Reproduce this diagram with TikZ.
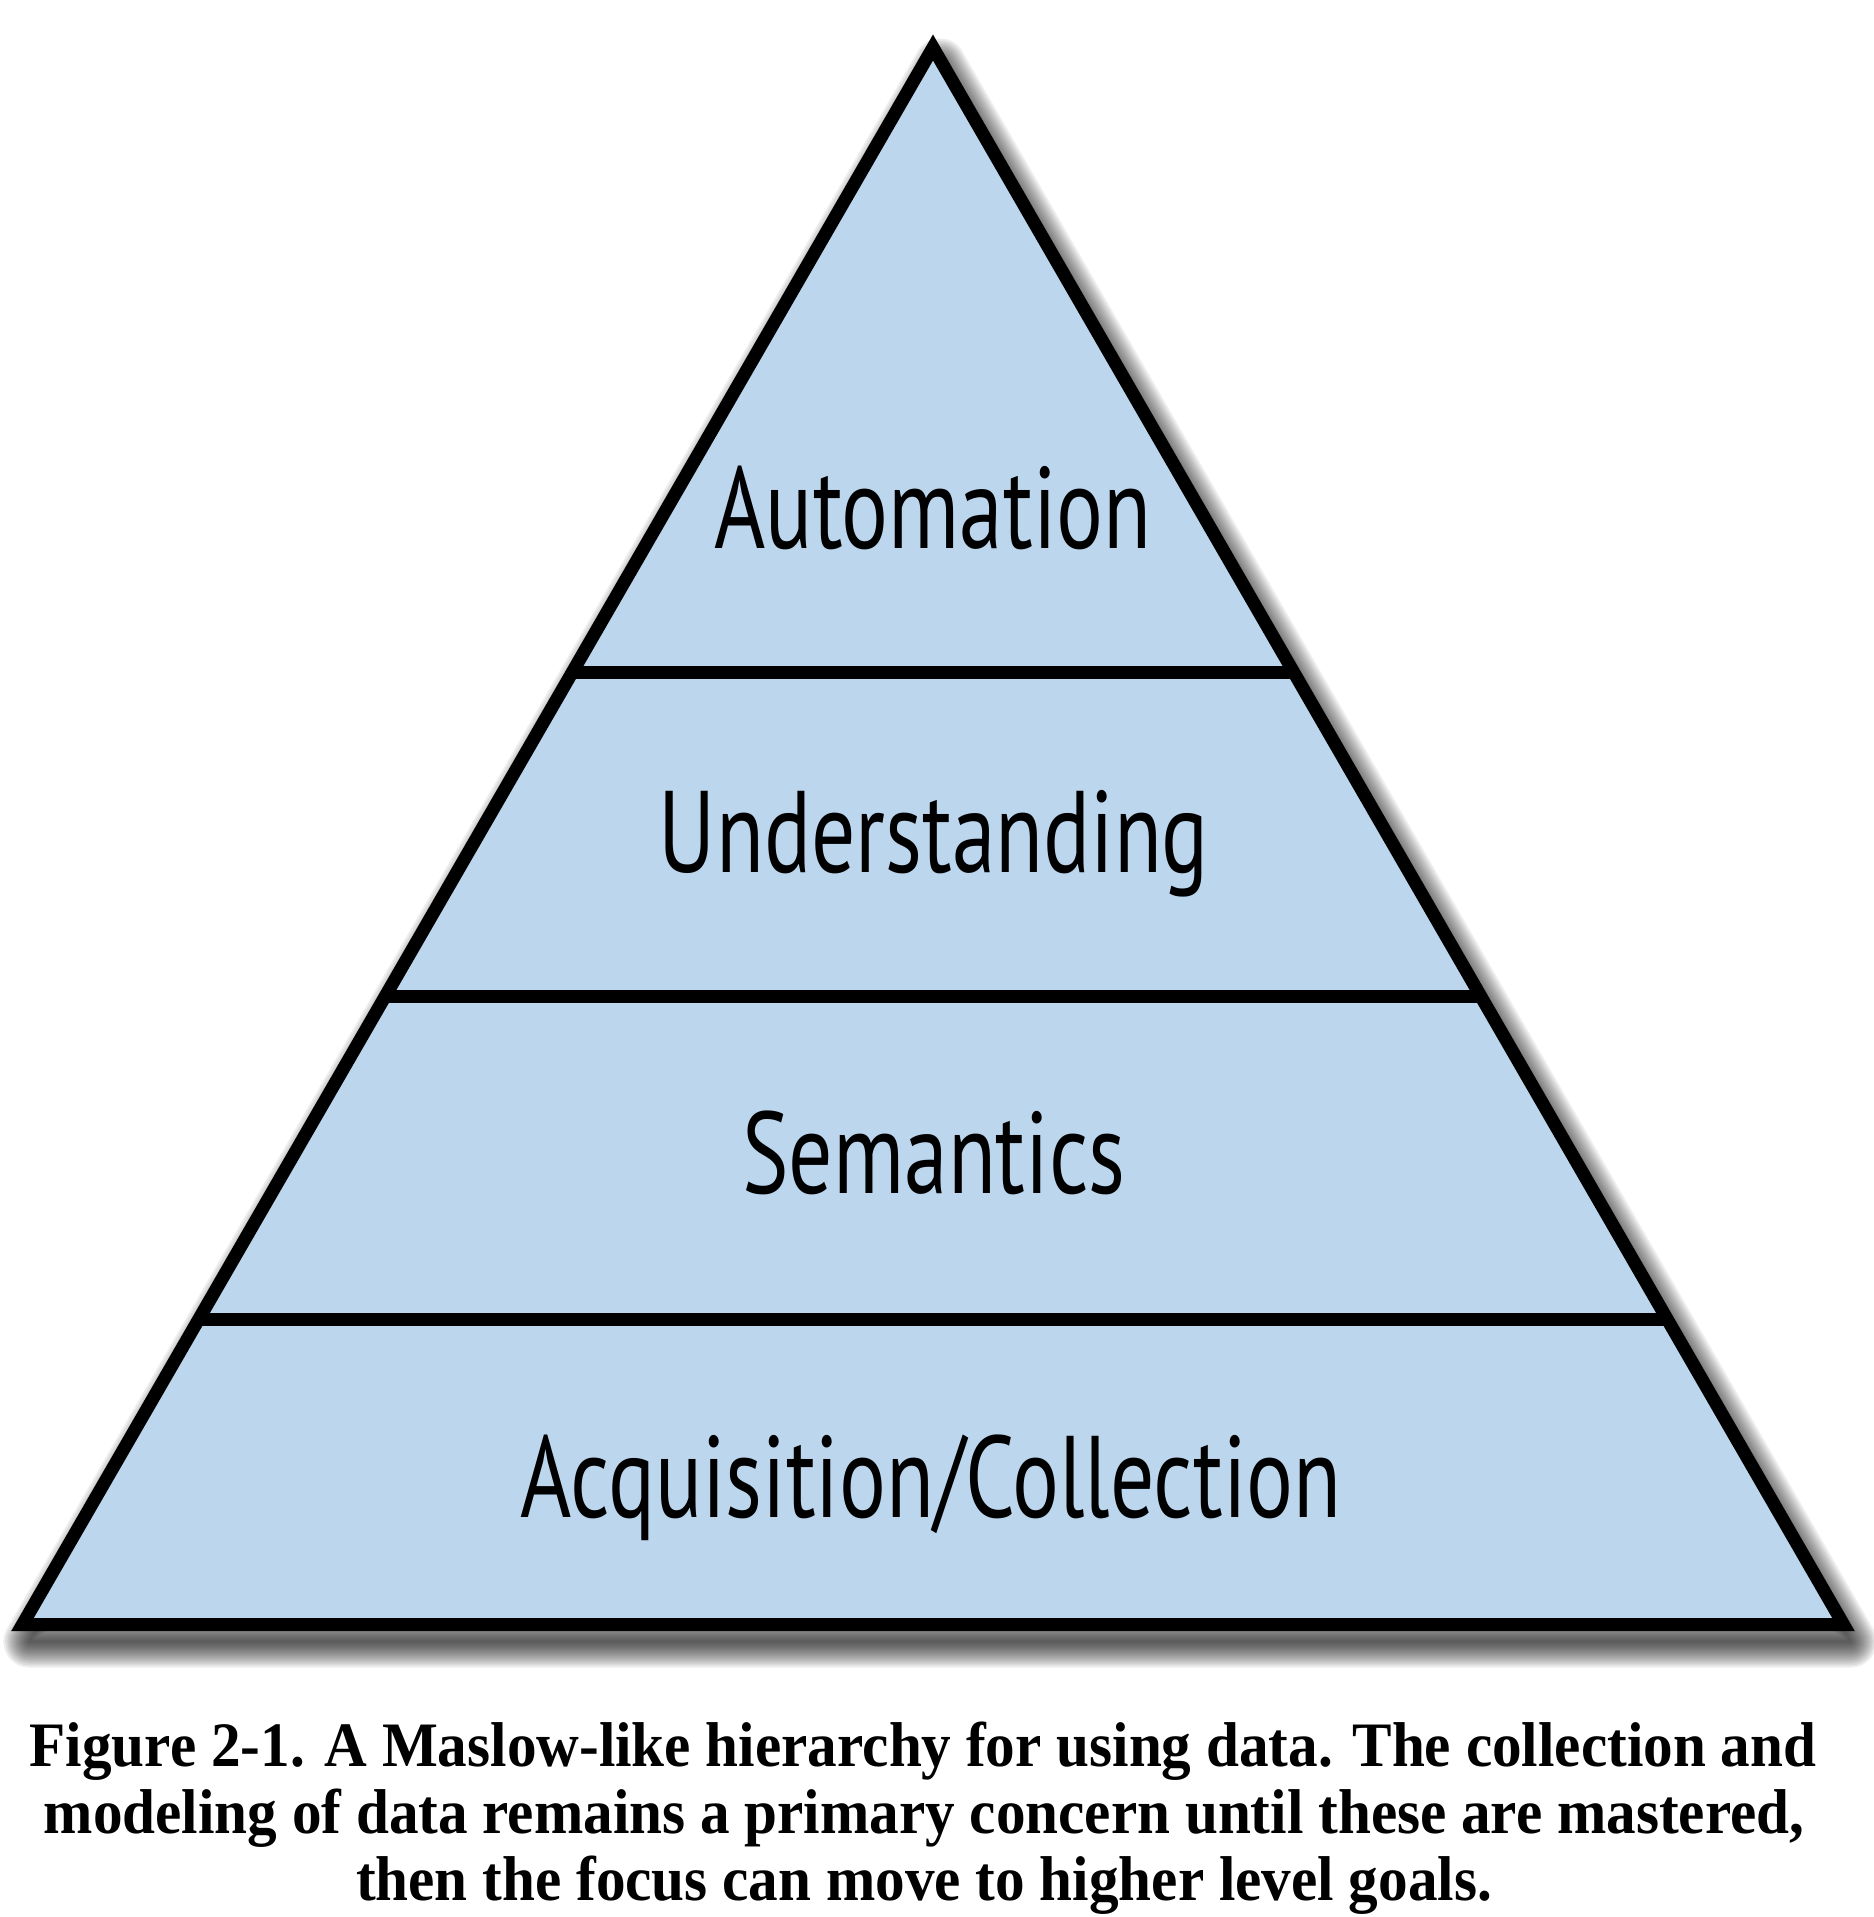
\documentclass[tikz,border=0pt]{standalone}
\usepackage{fontspec}
\setmainfont{Liberation Serif}
\newfontfamily\layerfont[FakeStretch=0.755]{PT Sans}
\newfontfamily\capfont[FakeStretch=0.935]{Liberation Serif}
\usetikzlibrary{calc}
\definecolor{layerblue}{RGB}{188,214,238}
\begin{document}
\begin{tikzpicture}[x=0.01cm,y=-0.01cm,
  outline/.style={line width=3.7pt, line join=miter},
  divider/.style={line width=3.7pt},
  layerlabel/.style={font=\layerfont\fontsize{33}{36}\selectfont, anchor=base, inner sep=0pt},
  captionline/.style={font=\capfont\bfseries\fontsize{18}{19}\selectfont, anchor=base, inner sep=0pt}]
\useasboundingbox (0,0) rectangle (1874,1917);
\fill[white] (0,0) rectangle (1874,1917);

% corners of the pyramid
\coordinate (apex) at (933,47.5);
\coordinate (bl) at (22.5,1624.5);
\coordinate (br) at (1843.5,1624.5);

% soft drop shadow, built from stacked translucent strokes
\coordinate (sapex) at ($(apex)+(7,17)$);
\coordinate (sbl) at ($(bl)+(7,17)$);
\coordinate (sbr) at ($(br)+(7,17)$);
\foreach \w in {4,8,...,52}
  \draw[black, opacity=0.07, line width=\w*0.2845pt, line join=round]
    (sapex) -- (sbl) -- (sbr) -- cycle;

% body
\fill[layerblue] (apex) -- (bl) -- (br) -- cycle;

% layer dividers
\foreach \t/\n in {0.3966/a, 0.6015/b, 0.8063/c} {
  \coordinate (L\n) at ($(apex)!\t!(bl)$);
  \coordinate (R\n) at ($(apex)!\t!(br)$);
}
\draw[divider] (La) -- (Ra);
\draw[divider] (Lb) -- (Rb);
\draw[divider] (Lc) -- (Rc);

% outline
\draw[outline] (apex) -- (bl) -- (br) -- cycle;

% layer names
\node[layerlabel] (auto) at (933,548) {Automation};
\node[layerlabel] (und) at (934,872) {Understanding};
\node[layerlabel] (sem) at (934,1193) {Semantics};
\node[layerlabel] (acq) at (931,1517) {Acquisition/Collection};

% caption
\node[captionline] (cap1) at (923,1766) {Figure 2-1. A Maslow-like hierarchy for using data. The collection and};
\node[captionline] (cap2) at (924,1833) {modeling of data remains a primary concern until these are mastered,};
\node[captionline] (cap3) at (924,1900) {then the focus can move to higher level goals.};
\end{tikzpicture}
\end{document}
